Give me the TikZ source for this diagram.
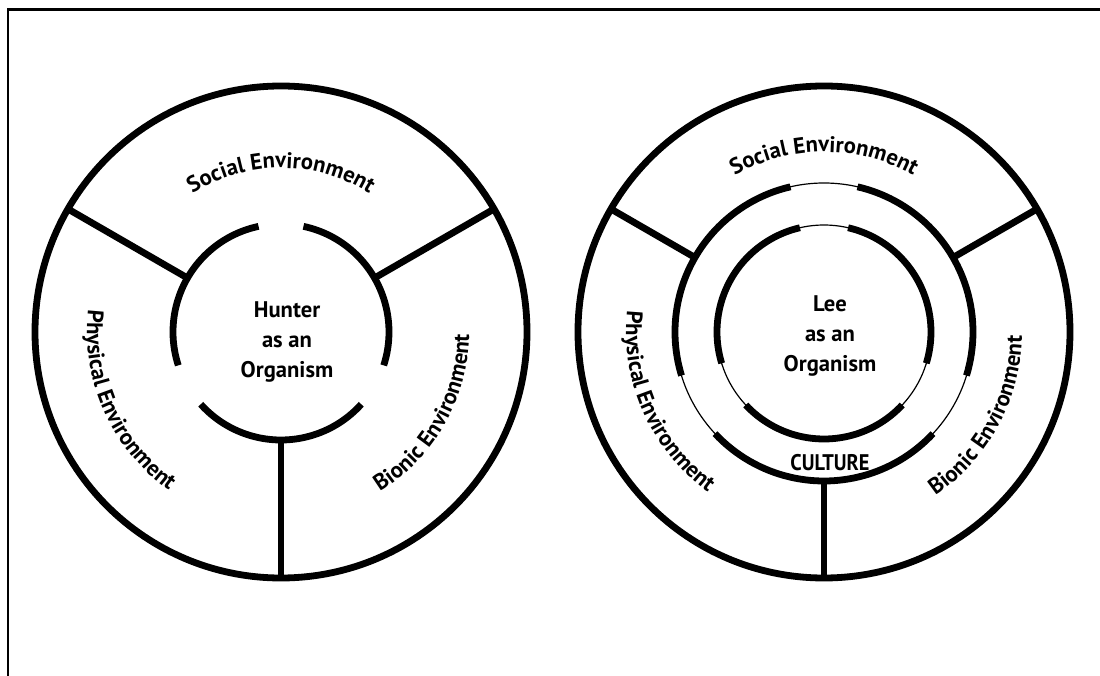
\documentclass[tikz,border=0pt]{standalone}
\usepackage{fontspec}
\setmainfont{PT Sans}
\usetikzlibrary{calc,decorations.text}

\newcommand{\labelfont}{\bfseries\fontsize{11.3}{15}\selectfont}

\tikzset{
  heavy/.style={line width=3.4pt},
  hair/.style={line width=0.6pt},
  organism/.style={font=\labelfont, align=center, inner sep=0pt},
  ring label/.style={decorate, decoration={text along path, text align=center, text={|\labelfont|#1}}},
}

\begin{document}
\begin{tikzpicture}[x=0.5pt,y=0.5pt]
\useasboundingbox (0,0) rectangle (1100,676);
% frame
\draw[line width=1.2pt] (1100,666.5) -- (8,666.5) -- (8,0);

% hunter
\coordinate (hunter c) at (281,344);
\draw[heavy] (hunter c) circle[radius=246];
\foreach \a in {30,150,270}{
  \draw[heavy] ($(hunter c)+(\a:108)$) -- ($(hunter c)+(\a:246)$);
  \draw[heavy] ($(hunter c)+(\a+48:108)$) arc[start angle=\a+48, end angle=\a-48, radius=108];
}
\node[organism] (hunter) at (287,334) {Hunter\\as an\\Organism};
\path[ring label=Social Environment] ($(hunter c)+(150:164)$) arc[start angle=150, end angle=30, radius=164];
\path[ring label=Physical Environment] ($(hunter c)+(150:194)$) arc[start angle=150, end angle=258, radius=194];
\path[ring label=Bionic Environment] ($(hunter c)+(270:188)$) arc[start angle=270, end angle=391, radius=188];

% lee
\coordinate (lee c) at (824,344);
\draw[heavy] (lee c) circle[radius=246];
\draw[hair] (lee c) circle[radius=149];
\draw[hair] (lee c) circle[radius=107];
\foreach \a in {30,150,270}{
  \draw[heavy] ($(lee c)+(\a:149)$) -- ($(lee c)+(\a:246)$);
  \draw[heavy] ($(lee c)+(\a+47:149)$) arc[start angle=\a+47, end angle=\a-47, radius=149];
  \draw[heavy] ($(lee c)+(\a+47:107)$) arc[start angle=\a+47, end angle=\a-47, radius=107];
}
\node[organism] (lee) at (830,340) {Lee\\as an\\Organism};
\node[organism, anchor=base] (culture) at (830,205) {\scalebox{0.9}[1]{CULTURE}};
\path[ring label=Social Environment] ($(lee c)+(150:180)$) arc[start angle=150, end angle=30, radius=180];
\path[ring label=Physical Environment] ($(lee c)+(150:198)$) arc[start angle=150, end angle=258, radius=198];
\path[ring label=Bionic Environment] ($(lee c)+(270:198)$) arc[start angle=270, end angle=393, radius=198];
\end{tikzpicture}
\end{document}
